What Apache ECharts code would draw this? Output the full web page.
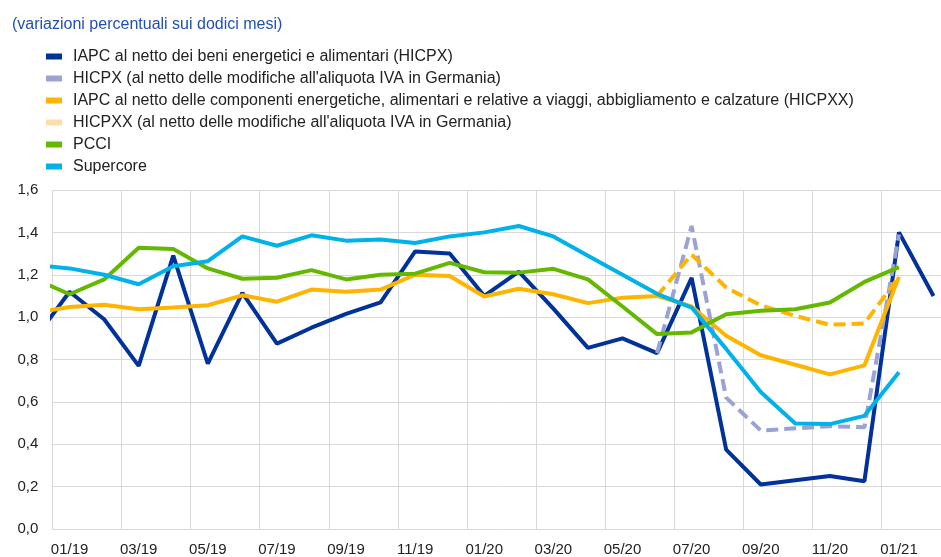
<!DOCTYPE html>
<html>
<head>
<meta charset="utf-8">
<script src="https://cdn.jsdelivr.net/npm/echarts@6/dist/echarts.min.js"></script>
<style>
  html, body { margin: 0; padding: 0; background: #fff; overflow: hidden; }
  /* the plot runs past the right edge of the window, as in the original */
  #chart { width: 951px; height: 557px; }
</style>
</head>
<body>
<div id="chart"></div>
<script>
// month labels on the axis (01/19 .. 02/21)
const months = ["01/19", "02/19", "03/19", "04/19", "05/19", "06/19", "07/19", "08/19", "09/19", "10/19", "11/19", "12/19",
  "01/20", "02/20", "03/20", "04/20", "05/20", "06/20", "07/20", "08/20", "09/20", "10/20", "11/20", "12/20",
  "01/21", "02/21"];

// values from 12/18 to 02/21 (the 12/18 point is cut by the left edge)
const hicpx = [0.90, 1.12, 0.99, 0.77, 1.29, 0.78, 1.115, 0.875, 0.95, 1.015, 1.07, 1.31, 1.30,
  1.10, 1.215, 1.04, 0.855, 0.90, 0.83, 1.185, 0.375, 0.21, 0.23, 0.25, 0.225, 1.40, 1.10];
const hicpxVat = [null, null, null, null, null, null, null, null, null, null, null, null, null,
  null, null, null, null, null, 0.83, 1.43, 0.62, 0.465, 0.475, 0.485, 0.48, 1.39, null];
const hicpxx = [1.02, 1.048, 1.058, 1.037, 1.045, 1.056, 1.103, 1.073, 1.13, 1.12, 1.13, 1.20, 1.194,
  1.097, 1.134, 1.108, 1.066, 1.092, 1.10, 1.05, 0.912, 0.82, 0.775, 0.73, 0.772, 1.19, null];
const hicpxxVat = [null, null, null, null, null, null, null, null, null, null, null, null, null,
  null, null, null, null, null, 1.10, 1.295, 1.14, 1.056, 1.006, 0.964, 0.97, 1.19, null];
const pcci = [1.18, 1.108, 1.178, 1.327, 1.322, 1.23, 1.181, 1.186, 1.222, 1.178, 1.20, 1.205, 1.256,
  1.212, 1.21, 1.228, 1.178, 1.05, 0.92, 0.928, 1.014, 1.03, 1.037, 1.069, 1.166, 1.236, null];
const supercore = [1.245, 1.23, 1.20, 1.155, 1.24, 1.264, 1.381, 1.337, 1.386, 1.361, 1.366, 1.35, 1.381,
  1.40, 1.43, 1.381, 1.29, 1.20, 1.11, 1.045, 0.85, 0.647, 0.498, 0.495, 0.534, 0.74, null];

const names = [
  "IAPC al netto dei beni energetici e alimentari (HICPX)",
  "HICPX (al netto delle modifiche all'aliquota IVA in Germania)",
  "IAPC al netto delle componenti energetiche, alimentari e relative a viaggi, abbigliamento e calzature (HICPXX)",
  "HICPXX (al netto delle modifiche all'aliquota IVA in Germania)",
  "PCCI",
  "Supercore"
];

// pair values with a month index, 12/18 = -1
function toPoints(arr) {
  let out = [];
  arr.forEach((v, i) => {
    if (v !== null) out.push([i - 1, v]);
  });
  return out;
}

function line(name, arr, color, dashed) {
  return {
    name: name,
    type: "line",
    xAxisIndex: 1,
    data: toPoints(arr),
    symbol: "none",
    clip: true,
    lineStyle: { color: color, width: 4, type: dashed ? [12, 6] : "solid" },
    itemStyle: { color: color }
  };
}

const chart = echarts.init(document.getElementById("chart"), null, { renderer: "canvas" });

const option = {
  animation: false,
  textStyle: { fontFamily: "Liberation Sans, Arial, sans-serif" },
  title: {
    text: "(variazioni percentuali sui dodici mesi)",
    left: 12,
    top: 17,
    padding: 0,
    textStyle: { color: "#2150b4", fontSize: 16, fontWeight: "normal" }
  },
  legend: {
    orient: "vertical",
    left: 46,
    top: 48.5,
    padding: 0,
    icon: "rect",
    itemWidth: 16,
    itemHeight: 6,
    itemGap: 6,
    textStyle: { color: "#222", fontSize: 16, padding: [0, 0, 0, 6] },
    data: [
      { name: names[0], itemStyle: { color: "#003299" } },
      { name: names[1], itemStyle: { color: "#9aa3d4" } },
      { name: names[2], itemStyle: { color: "#ffb400" } },
      { name: names[3], itemStyle: { color: "#fddcab" } },
      { name: names[4], itemStyle: { color: "#65b800" } },
      { name: names[5], itemStyle: { color: "#00b1ea" } }
    ]
  },
  grid: { left: 52.3, top: 190, width: 898.5, height: 341.3 },
  xAxis: [
    {
      type: "category",
      data: months,
      boundaryGap: true,
      axisLine: { show: true, lineStyle: { color: "#d9d9d9", width: 1 } },
      axisTick: { show: false, interval: 1 },
      axisLabel: { interval: 1, color: "#222", fontSize: 15, margin: 13 },
      splitLine: { show: true, interval: 1, lineStyle: { color: "#d9d9d9", width: 1 } }
    },
    {
      type: "value",
      min: -0.5,
      max: 25.5,
      show: false,
      splitLine: { show: false }
    }
  ],
  yAxis: {
    type: "value",
    min: 0,
    max: 1.6,
    interval: 0.2,
    axisLine: { show: false },
    axisTick: { show: false },
    axisLabel: {
      color: "#222",
      fontSize: 15,
      margin: 14,
      formatter: (v) => v.toFixed(1).replace(".", ",")
    },
    splitLine: { lineStyle: { color: "#d9d9d9", width: 1 } }
  },
  series: [
    line(names[0], hicpx, "#003299", false),
    line(names[1], hicpxVat, "#9aa3d4", true),
    line(names[2], hicpxx, "#ffb400", false),
    line(names[3], hicpxxVat, "#ffb400", true),
    line(names[4], pcci, "#65b800", false),
    line(names[5], supercore, "#00b1ea", false)
  ]
};

chart.setOption(option);
</script>
</body>
</html>
